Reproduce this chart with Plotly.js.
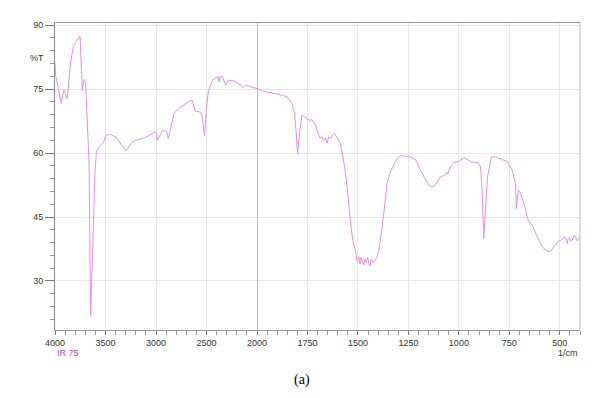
<!DOCTYPE html>
<html>
<head>
<meta charset="utf-8">
<script src="https://cdn.plot.ly/plotly-3.0.1.min.js"></script>
<style>html,body{margin:0;padding:0;background:#fff;}#chart{width:605px;height:398px;}</style>
</head>
<body>
<div id="chart"></div>
<script>
// Wavenumber (1/cm) and %T, high-wavenumber segment (4000 -> 2000)
const wnHigh = [4000,3994,3967,3950,3938,3925,3911,3895,3885,3878,3865,3845,3822,3810,3796,3775,3762,3752,3745,3730,3718,3707,3697,3688,3680,3670,3663,3655,3647,3640,3631,3614,3605,3598,3590,3571,3564,3545,3532,3510,3499,3475,3450,3425,3400,3375,3350,3320,3301,3285,3274,3255,3235,3200,3136,3080,3037,3010,2995,2987,2970,2938,2898,2878,2855,2822,2772,2707,2657,2641,2614,2574,2549,2535,2519,2502,2482,2443,2393,2385,2376,2365,2344,2330,2311,2284,2228,2178,2145,2112,2046,2000];
const tHigh = [81.3,78.2,75.1,72.5,71.6,73.5,74.7,73.9,72.8,73.0,77,81.3,84.5,85.5,86.0,86.8,87.2,87.3,84,74.7,76.8,77.3,76.2,72,67.3,62,57.9,40,21.9,28,37.3,47.4,55,58.4,60.5,61.2,61.5,62.0,62.1,63,64.1,64.3,64.3,64.1,63.8,63.0,62.2,61.2,60.6,60.8,61.2,62,62.6,63.0,63.4,64.0,64.6,65.0,64.5,63.0,63.8,65.2,65.2,63.4,65.8,69.3,70.5,71.6,72.4,72.3,69.9,69.7,69.3,67,64,70.1,74.4,77.1,77.7,77.9,76.7,77.9,78.0,77.1,75.9,77.1,76.9,76.3,75.4,75.9,75.5,75.1];

// Low-wavenumber segment (2000 -> 400)
const wnLow = [2000,1959,1893,1851,1827,1814,1807,1799,1790,1777,1768,1761,1745,1736,1728,1719,1710,1703,1695,1686,1678,1670,1662,1653,1645,1636,1628,1617,1608,1599,1590,1582,1574,1566,1554,1542,1538,1533,1525,1516,1510,1504,1496,1490,1485,1480,1472,1465,1458,1452,1447,1440,1435,1430,1422,1414,1405,1398,1389,1372,1356,1339,1323,1306,1290,1265,1240,1215,1191,1166,1150,1133,1116,1091,1070,1060,1055,1050,1037,1026,1001,976,968,943,905,893,885,877,868,862,858,855,847,839,819,786,761,736,720,715,706,695,673,657,637,612,587,563,546,530,508,488,475,468,463,458,452,445,438,430,422,415,408,400];
const tLow = [75.1,74.4,73.8,73.2,71.6,69.3,65.4,59.8,64.6,68.9,68.6,68.4,67.9,67.6,67.9,67.3,66.5,65.4,64.6,63.4,63.8,63.0,63.6,62.3,63.8,63.3,64.2,64.6,64.0,63.4,62.5,61.1,59.0,56.8,52.1,45.9,44,42,39.5,38,36.5,34.5,35.7,34.0,35.5,34.9,33.8,35.2,34.3,35.6,34.2,33.5,35.1,34.9,34.4,34.9,35.7,37,39.6,45.9,52.9,55.6,57.2,58.8,59.4,59.3,59.0,58.5,56,53.7,52.5,52,52.5,54.4,54.8,55.5,55.0,56,57.2,57.7,58.1,58.8,58.8,58,57.7,56.8,51.3,40,48.2,53,54.5,55.2,57.5,59.1,59.1,58.5,58,56,52.9,47,51.3,50.6,47.4,44.3,43.1,40.4,38.0,37.0,36.9,38.0,39.2,39.8,40.4,39.5,38.8,40.1,40.0,39.3,39.6,40.6,40.4,39.5,39.6,40.4];

const ticksHigh = [4000,3500,3000,2500];
const ticksLow = [2000,1750,1500,1250,1000,750,500];
const ticksY = [30,45,60,75,90];

const lineColor = '#e88ee8';
const split = 0.3848;
const tickFont = {family:'Liberation Sans, Arial, sans-serif', size:9, color:'#333'};

const traces = [
  {x: wnHigh, y: tHigh, xaxis:'x', yaxis:'y', mode:'lines', line:{color:lineColor, width:1}, hoverinfo:'skip'},
  {x: wnLow, y: tLow, xaxis:'x2', yaxis:'y', mode:'lines', line:{color:lineColor, width:1}, hoverinfo:'skip'}
];

const xCommon = {
  showline:true, linecolor:'#999', linewidth:1, mirror:true,
  ticks:'outside', ticklen:4, tickcolor:'#777', tickwidth:1,
  showgrid:true, gridcolor:'#e6e6e6', gridwidth:1,
  zeroline:false, tickfont:tickFont, tickmode:'array', anchor:'y', fixedrange:true
};

const layout = {
  width:605, height:398,
  margin:{l:55, r:25, t:23, b:68},
  paper_bgcolor:'#fff', plot_bgcolor:'#fff',
  showlegend:false,
  xaxis: Object.assign({}, xCommon, {
    domain:[0, split], range:[4000,2000], tickvals:ticksHigh,
    minor:{tickmode:'linear', tick0:0, dtick:100, ticks:'outside', ticklen:4, tickcolor:'#999', showgrid:false}
  }),
  xaxis2: Object.assign({}, xCommon, {
    domain:[split, 1], range:[2000,400], tickvals:ticksLow,
    minor:{tickmode:'linear', tick0:0, dtick:50, ticks:'outside', ticklen:4, tickcolor:'#999', showgrid:false}
  }),
  yaxis: {
    range:[18.5, 90.5], tickmode:'array', tickvals:ticksY,
    showline:true, linecolor:'#888', linewidth:1,
    ticks:'outside', ticklen:9, tickcolor:'#777', tickwidth:1,
    minor:{tickmode:'linear', tick0:0, dtick:3, ticks:'outside', ticklen:4, tickcolor:'#999', showgrid:false},
    showgrid:true, gridcolor:'#e6e6e6', zeroline:false, tickfont:tickFont, fixedrange:true
  },
  shapes: [
    {type:'line', xref:'x2', yref:'paper', x0:2000, x1:2000, y0:0, y1:1, line:{color:'#aaa', width:1.5}},
    {type:'line', xref:'paper', yref:'paper', x0:1, x1:1, y0:0, y1:1, line:{color:'#bbb', width:1}}
  ],
  annotations: [
    {text:'%T', xref:'paper', yref:'paper', x:-0.034, y:0.886, xanchor:'center', yanchor:'middle', showarrow:false, font:tickFont},
    {text:'IR 75', xref:'paper', yref:'paper', x:0, y:-0.074, xanchor:'left', yanchor:'middle', showarrow:false, font:{family:'Liberation Sans, Arial, sans-serif', size:9, color:'#d24ad2'}},
    {text:'1/cm', xref:'paper', yref:'paper', x:1, y:-0.074, xanchor:'right', yanchor:'middle', showarrow:false, font:tickFont},
    {text:'(a)', xref:'paper', yref:'paper', x:0.471, y:-0.163, xanchor:'center', yanchor:'middle', showarrow:false, font:{family:'Liberation Serif, Times New Roman, serif', size:14, color:'#000'}}
  ]
};

Plotly.newPlot('chart', traces, layout, {displayModeBar:false, staticPlot:true});
</script>
</body>
</html>
